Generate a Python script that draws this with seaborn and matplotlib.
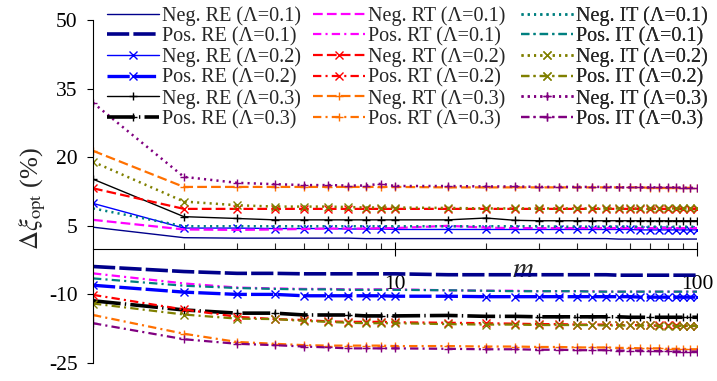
import matplotlib
matplotlib.use("Agg")
import matplotlib.pyplot as plt
import seaborn as sns
from matplotlib.ticker import FixedLocator, NullFormatter

# Number of samples m
m = [1, 2, 3, 4, 5, 6, 7, 8, 9, 10, 15, 20, 25, 30, 35, 40, 45, 50,
     55, 60, 65, 70, 75, 80, 85, 90, 95, 100]

# Deviation of the optimum (%), negative perturbation
neg_re_01 = [4.7, 2.4, 2.3, 2.3, 2.3, 2.3, 2.3, 2.2, 2.2, 2.2,
             2.2, 2.2, 2.2, 2.2, 2.2, 2.2, 2.2, 2.2, 2.1, 2.1, 2.1, 2.1, 2.1, 2.1, 2.1, 2.1, 2.1, 2.1]
neg_re_02 = [9.9, 4.5, 4.5, 4.4, 4.4, 4.4, 4.3, 4.3, 4.3, 4.2,
             4.2, 4.2, 4.2, 4.2, 4.2, 4.2, 4.2, 4.2, 4.2, 4.2, 4.1, 4.1, 4.1, 4.1, 4.1, 4.1, 4.1, 4.1]
neg_re_03 = [15.2, 7.0, 6.6, 6.3, 6.3, 6.3, 6.3, 6.3, 6.3, 6.3,
             6.3, 6.7, 6.2, 6.1, 6.1, 6.1, 6.1, 6.1, 6.1, 6.1, 6.1, 6.1, 6.1, 6.1, 6.1, 6.1, 6.1, 6.1]
neg_rt_01 = [6.3, 4.2, 4.1, 4.2, 4.3, 4.4, 4.4, 4.4, 4.5, 4.5,
             5.0, 4.6, 4.5, 4.5, 4.5, 4.5, 4.5, 4.5, 4.5, 4.5, 4.5, 4.5, 4.5, 4.5, 4.5, 4.5, 4.5, 4.5]
neg_rt_02 = [13.2, 8.7, 8.7, 8.7, 8.7, 8.7, 8.7, 8.7, 8.7, 8.7,
             8.7, 8.7, 8.7, 8.7, 8.7, 8.7, 8.7, 8.7, 8.7, 8.7, 8.7, 8.7, 8.7, 8.7, 8.7, 8.7, 8.7, 8.7]
neg_rt_03 = [21.4, 13.5, 13.5, 13.5, 13.5, 13.5, 13.5, 13.5, 13.5, 13.5,
             13.4, 13.4, 13.4, 13.4, 13.4, 13.4, 13.4, 13.4, 13.4, 13.4, 13.4, 13.3, 13.3, 13.3, 13.3, 13.3, 13.3, 13.3]
neg_it_01 = [8.8, 4.9, 4.9, 4.9, 4.9, 4.9, 4.9, 4.9, 4.9, 4.9,
             4.9, 4.9, 4.9, 4.9, 4.8, 4.8, 4.8, 4.8, 4.8, 4.8, 4.8, 4.8, 4.8, 4.8, 4.8, 4.8, 4.8, 4.8]
neg_it_02 = [19.0, 10.3, 9.5, 9.2, 9.2, 9.2, 9.1, 9.0, 9.0, 9.0,
             8.9, 8.8, 8.8, 8.8, 8.8, 8.8, 8.8, 8.8, 8.8, 8.8, 8.8, 8.8, 8.8, 8.8, 8.8, 8.8, 8.8, 8.8]
neg_it_03 = [31.9, 15.7, 14.4, 14.1, 13.9, 13.9, 13.8, 13.8, 14.2, 13.7,
             13.7, 13.6, 13.6, 13.5, 13.5, 13.5, 13.5, 13.5, 13.4, 13.4, 13.4, 13.4, 13.4, 13.4, 13.4, 13.3, 13.3, 13.2]

# Deviation of the optimum (%), positive perturbation
pos_re_01 = [-3.9, -5.0, -5.4, -5.4, -5.5, -5.5, -5.5, -5.5, -5.5, -5.5,
             -5.7, -5.7, -5.7, -5.7, -5.7, -5.7, -5.7, -5.7, -5.8, -5.8, -5.8, -5.8, -5.8, -5.8, -5.8, -5.8, -5.8, -5.8]
pos_re_02 = [-8.0, -9.5, -10.0, -10.0, -10.3, -10.3, -10.3, -10.3, -10.3, -10.4,
             -10.4, -10.5, -10.5, -10.5, -10.5, -10.5, -10.5, -10.5, -10.5, -10.5, -10.6, -10.6, -10.6, -10.6, -10.6, -10.6, -10.6, -10.6]
pos_re_03 = [-11.4, -13.4, -14.1, -14.1, -14.5, -14.5, -14.5, -14.7, -14.7, -14.7,
             -14.6, -14.8, -14.8, -14.9, -14.9, -14.9, -14.9, -14.9, -14.9, -15.0, -15.0, -15.0, -15.0, -15.0, -15.0, -15.0, -15.0, -15.0]
pos_rt_01 = [-5.4, -7.6, -8.5, -8.7, -8.8, -8.8, -8.9, -8.9, -8.9, -8.9,
             -9.1, -9.2, -9.2, -9.3, -9.3, -9.3, -9.3, -9.4, -9.4, -9.4, -9.4, -9.4, -9.4, -9.4, -9.4, -9.4, -9.4, -9.4]
pos_rt_02 = [-10.1, -13.3, -14.9, -15.4, -15.6, -15.9, -16.0, -16.0, -16.0, -16.1,
             -16.2, -16.3, -16.4, -16.5, -16.5, -16.6, -16.6, -16.6, -16.7, -16.7, -16.7, -16.8, -16.8, -16.8, -16.8, -16.9, -16.9, -16.9]
pos_rt_03 = [-14.5, -18.6, -20.4, -20.8, -21.1, -21.2, -21.2, -21.2, -21.2, -21.3,
             -21.3, -21.4, -21.4, -21.5, -21.5, -21.6, -21.6, -21.6, -21.7, -21.7, -21.8, -21.8, -21.8, -21.9, -21.9, -21.9, -22.0, -22.0]
pos_it_01 = [-6.5, -8.1, -8.6, -8.8, -8.9, -8.9, -9.0, -9.0, -9.0, -9.0,
             -9.1, -9.2, -9.3, -9.3, -9.3, -9.3, -9.4, -9.4, -9.4, -9.4, -9.4, -9.4, -9.4, -9.4, -9.4, -9.4, -9.4, -9.4]
pos_it_02 = [-12.0, -14.4, -15.3, -15.4, -15.8, -16.0, -16.2, -16.3, -16.3, -16.3,
             -16.5, -16.6, -16.6, -16.7, -16.7, -16.7, -16.7, -16.8, -16.8, -16.8, -16.8, -16.8, -16.9, -16.9, -16.9, -16.9, -16.9, -16.9]
pos_it_03 = [-16.3, -19.8, -20.8, -21.1, -21.4, -21.6, -21.8, -21.8, -21.8, -21.8,
             -21.9, -22.0, -22.0, -22.1, -22.1, -22.2, -22.2, -22.2, -22.3, -22.3, -22.3, -22.4, -22.4, -22.4, -22.5, -22.5, -22.5, -22.5]

x_tick_values = [10, 100]
x_tick_labels = ["10", "100"]
y_tick_values = [-25, -10, 5, 20, 35, 50]

sns.set_style("ticks")
plt.rcParams["font.family"] = ["Liberation Serif", "DejaVu Serif"]
plt.rcParams["mathtext.fontset"] = "stix"
plt.rcParams["lines.scale_dashes"] = False

NAVY, BLUE, BLACK = "#00008b", "#0000ff", "#000000"
MAGENTA, RED, ORANGE = "#ff00ff", "#ff0000", "#ff7000"
TEAL, OLIVE, PURPLE = "#008080", "#808000", "#800080"

SOLID = "-"
DASH = (0, (7, 3))
DOT = (0, (1.5, 3))
DASHDOT = (0, (6, 3, 1.5, 3))
THICK_DASH = (0, (16, 3))
THICK_DASHDOT = (0, (20, 3, 1, 3))

# (label, values, colour, line style, line width, marker) in legend order
series = [
    ("Neg. RE (Λ=0.1)", neg_re_01, NAVY, SOLID, 1.0, None),
    ("Pos. RE (Λ=0.1)", pos_re_01, NAVY, THICK_DASH, 2.6, None),
    ("Neg. RE (Λ=0.2)", neg_re_02, BLUE, SOLID, 1.0, "x"),
    ("Pos. RE (Λ=0.2)", pos_re_02, BLUE, THICK_DASH, 2.4, "x"),
    ("Neg. RE (Λ=0.3)", neg_re_03, BLACK, SOLID, 1.0, "+"),
    ("Pos. RE (Λ=0.3)", pos_re_03, BLACK, THICK_DASHDOT, 2.6, "+"),
    ("Neg. RT (Λ=0.1)", neg_rt_01, MAGENTA, DASH, 1.6, None),
    ("Pos. RT (Λ=0.1)", pos_rt_01, MAGENTA, DASHDOT, 1.6, None),
    ("Neg. RT (Λ=0.2)", neg_rt_02, RED, DASH, 1.6, "x"),
    ("Pos. RT (Λ=0.2)", pos_rt_02, RED, DASHDOT, 1.6, "x"),
    ("Neg. RT (Λ=0.3)", neg_rt_03, ORANGE, DASH, 1.6, "+"),
    ("Pos. RT (Λ=0.3)", pos_rt_03, ORANGE, DASHDOT, 1.6, "+"),
    ("Neg. IT (Λ=0.1)", neg_it_01, TEAL, DOT, 1.8, None),
    ("Pos. IT (Λ=0.1)", pos_it_01, TEAL, DASHDOT, 1.6, None),
    ("Neg. IT (Λ=0.2)", neg_it_02, OLIVE, DOT, 1.8, "x"),
    ("Pos. IT (Λ=0.2)", pos_it_02, OLIVE, DASHDOT, 1.6, "x"),
    ("Neg. IT (Λ=0.3)", neg_it_03, PURPLE, DOT, 1.8, "+"),
    ("Pos. IT (Λ=0.3)", pos_it_03, PURPLE, DASHDOT, 1.6, "+"),
]

fig = plt.figure(figsize=(7.17, 3.81), dpi=100)
ax = fig.add_axes([93 / 717, 18 / 381, 604 / 717, 343 / 381])

for label, values, color, ls, lw, marker in series:
    sns.lineplot(x=m, y=values, ax=ax, color=color, linestyle=ls, linewidth=lw,
                 marker=marker, markersize=6, markeredgecolor=color,
                 markeredgewidth=1.0, estimator=None, sort=False, label=label)

ax.set_xscale("log")
ax.set_xlim(1, 100)
ax.set_ylim(-25, 50)

# Axes cross at zero; no box around the plot
ax.spines["bottom"].set_position(("data", 0))
ax.spines["top"].set_visible(False)
ax.spines["right"].set_visible(False)
for side in ("left", "bottom"):
    ax.spines[side].set_linewidth(0.8)
    ax.spines[side].set_color("black")

ax.xaxis.set_major_locator(FixedLocator(x_tick_values))
ax.set_xticklabels(x_tick_labels)
ax.xaxis.set_minor_locator(FixedLocator([2, 3, 4, 5, 6, 7, 8, 9,
                                         20, 30, 40, 50, 60, 70, 80, 90]))
ax.xaxis.set_minor_formatter(NullFormatter())
ax.set_yticks(y_tick_values)
ax.set_yticklabels([str(v) for v in y_tick_values])

ax.tick_params(axis="x", which="major", direction="inout", length=10, width=0.8,
               pad=14, labelsize=15.5, colors="black")
ax.tick_params(axis="x", which="minor", direction="in", length=4, width=0.8)
ax.tick_params(axis="y", which="major", direction="out", length=4, width=0.8,
               pad=7, labelsize=15.5, colors="black")

ax.set_xlabel("$m$", fontsize=21)
ax.xaxis.label.set_va("center")
ax.xaxis.set_label_coords((523 - 93) / 604, (363 - 270) / 343)

ax.set_ylabel(r"$\Delta\xi_{\mathrm{opt}}$ (%)", fontsize=19)
ax.yaxis.label.set_va("center")
ax.yaxis.set_label_coords((32 - 93) / 604, 0.48)

# One legend column per method (RE, RT, IT), each anchored at its own x
handles, labels = ax.get_legend_handles_labels()
ax.get_legend().remove()
column_x = [107, 313, 521]
for i, x0 in enumerate(column_x):
    leg = ax.legend(handles[6 * i:6 * i + 6], labels[6 * i:6 * i + 6],
                    loc="upper left", frameon=False,
                    bbox_to_anchor=(x0 / 717, 1 - 6 / 381),
                    bbox_transform=fig.transFigure,
                    fontsize=14.5, handlelength=2.6, handletextpad=0.15,
                    labelspacing=0.06, borderpad=0, borderaxespad=0)
    ax.add_artist(leg)

fig.savefig("out.png", dpi=100)
